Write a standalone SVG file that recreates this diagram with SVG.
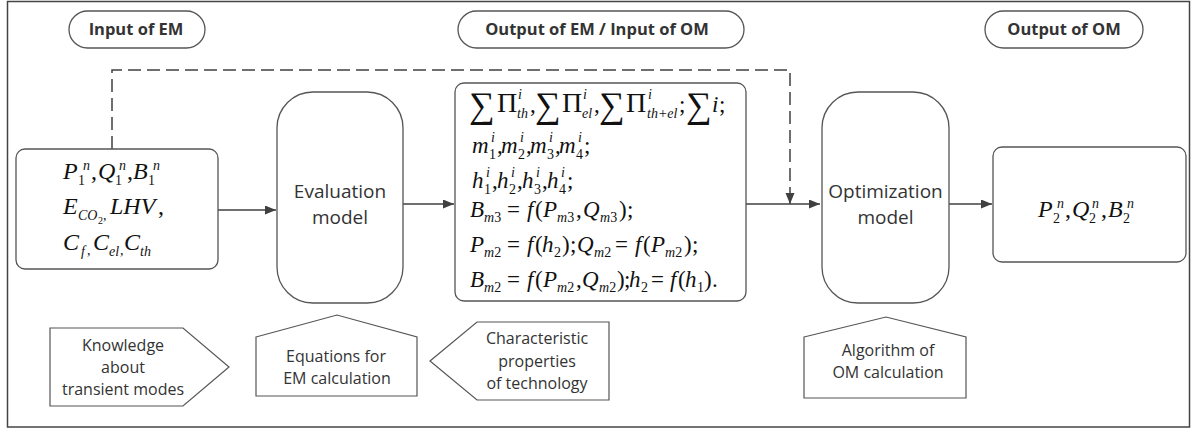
<svg xmlns="http://www.w3.org/2000/svg" width="1197" height="430" viewBox="0 0 1197 430">
<defs>
<style>
.frame{fill:none;stroke:#444;stroke-width:1.5}
.box{fill:#fff;stroke:#555;stroke-width:1.3}
.tag{fill:#fff;stroke:#555;stroke-width:1.2}
.hd{font-family:"Open Sans","Liberation Sans",sans-serif;font-weight:bold;font-size:16.5px;fill:#333;text-anchor:middle}
.lb{font-family:"Open Sans","Liberation Sans",sans-serif;font-size:19px;fill:#333;text-anchor:middle}
.sm{font-family:"Open Sans","Liberation Sans",sans-serif;font-size:16px;fill:#333;text-anchor:middle}
.m{font-family:"Liberation Serif","DejaVu Serif",serif;font-size:23px;fill:#111}
.m24{font-size:24px}
.i{font-style:italic}
.s{font-size:14px}
.xs{font-size:10px}
.big{font-size:36px}
.pi{font-size:28px}
.conn{fill:none;stroke:#404040;stroke-width:1.5}
.dash{stroke-dasharray:13 6}
</style>
<marker id="ah" markerUnits="userSpaceOnUse" markerWidth="12" markerHeight="10" refX="11" refY="4.5" orient="auto">
<path d="M0,0 L11,4.5 L0,9 z" fill="#404040"/>
</marker>
</defs>
<rect width="1197" height="430" fill="#fff"/>
<rect class="frame" x="7.5" y="1.5" width="1182" height="425.5"/>

<g id="hdr-input-em">
<rect class="box" x="69" y="11" width="136" height="37" rx="18.5"/>
<text class="hd" x="136" y="35">Input of EM</text>
</g>
<g id="hdr-output-em">
<rect class="box" x="458" y="11" width="286" height="37" rx="18.5"/>
<text class="hd" x="597" y="35">Output of EM / Input of OM</text>
</g>
<g id="hdr-output-om">
<rect class="box" x="985" y="11" width="158" height="37" rx="18.5"/>
<text class="hd" x="1064" y="35">Output of OM</text>
</g>

<g id="connectors">
<path class="conn" d="M218,210 H276" marker-end="url(#ah)"/>
<path class="conn" d="M403,204 H454" marker-end="url(#ah)"/>
<path class="conn" d="M746,204 H820" marker-end="url(#ah)"/>
<path class="conn" d="M949,204 H992" marker-end="url(#ah)"/>
<path class="conn dash" d="M112,149 V70 H790 V196"/>
<path class="conn" d="M790,196 V204" marker-end="url(#ah)"/>
</g>

<g id="input-box">
<rect class="box" x="16" y="149" width="202" height="120" rx="9"/>
<text class="m m24"><tspan class="i" x="63" y="179">P</tspan><tspan class="s" x="78" y="185">1</tspan><tspan class="s i" x="83" y="170">n</tspan><tspan x="91" y="179">,</tspan><tspan class="i" x="98" y="179">Q</tspan><tspan class="s" x="115" y="185">1</tspan><tspan class="s i" x="119" y="170">n</tspan><tspan x="127" y="179">,</tspan><tspan class="i" x="133" y="179">B</tspan><tspan class="s" x="148" y="185">1</tspan><tspan class="s i" x="153" y="170">n</tspan></text>
<text class="m m24"><tspan class="i" x="63" y="214">E</tspan><tspan class="s i" x="78" y="220">CO</tspan><tspan class="xs" x="98" y="224">2</tspan><tspan class="s" x="103" y="220">,</tspan><tspan class="i" x="110" y="214">LHV</tspan><tspan x="158" y="214">,</tspan></text>
<text class="m m24"><tspan class="i" x="63" y="250">C</tspan><tspan class="s i" x="81" y="256">f</tspan><tspan class="s" x="87" y="255">,</tspan><tspan class="i" x="93" y="250">C</tspan><tspan class="s i" x="109" y="256">el</tspan><tspan class="s" x="120" y="255">,</tspan><tspan class="i" x="124" y="250">C</tspan><tspan class="s i" x="140" y="256">th</tspan></text>
</g>

<g id="evaluation-model">
<rect class="box" x="277" y="92" width="126" height="211" rx="36"/>
<text class="lb" x="340" y="198">Evaluation</text>
<text class="lb" x="340" y="224">model</text>
</g>

<g id="em-output-box">
<rect class="box" x="455" y="83" width="291" height="218" rx="9"/>
<text class="m"><tspan class="big" x="469" y="117">∑</tspan><tspan class="pi" x="497" y="112">Π</tspan><tspan class="s i" x="518" y="99">i</tspan><tspan class="s i" x="517" y="118">th</tspan><tspan x="530" y="112">,</tspan><tspan class="big" x="535" y="117">∑</tspan><tspan class="pi" x="562" y="112">Π</tspan><tspan class="s i" x="583" y="99">i</tspan><tspan class="s i" x="582" y="118">el</tspan><tspan x="594" y="112">,</tspan><tspan class="big" x="599" y="117">∑</tspan><tspan class="pi" x="626" y="112">Π</tspan><tspan class="s i" x="648" y="99">i</tspan><tspan class="s i" x="647" y="118">th+el</tspan><tspan x="679" y="112">;</tspan><tspan class="big" x="686" y="117">∑</tspan><tspan class="i" x="712" y="112">i</tspan><tspan x="719" y="112">;</tspan></text>
<text class="m"><tspan class="i" x="472" y="153">m</tspan><tspan class="s" x="489" y="159">1</tspan><tspan class="s i" x="491" y="142">i</tspan><tspan x="497" y="153">,</tspan><tspan class="i" x="501" y="153">m</tspan><tspan class="s" x="518" y="159">2</tspan><tspan class="s i" x="520" y="142">i</tspan><tspan x="526" y="153">,</tspan><tspan class="i" x="530" y="153">m</tspan><tspan class="s" x="547" y="159">3</tspan><tspan class="s i" x="549" y="142">i</tspan><tspan x="555" y="153">,</tspan><tspan class="i" x="559" y="153">m</tspan><tspan class="s" x="576" y="159">4</tspan><tspan class="s i" x="578" y="142">i</tspan><tspan x="584" y="153">;</tspan></text>
<text class="m"><tspan class="i" x="472" y="188">h</tspan><tspan class="s" x="484" y="194">1</tspan><tspan class="s i" x="486" y="177">i</tspan><tspan x="492" y="188">,</tspan><tspan class="i" x="497" y="188">h</tspan><tspan class="s" x="509" y="194">2</tspan><tspan class="s i" x="511" y="177">i</tspan><tspan x="517" y="188">,</tspan><tspan class="i" x="522" y="188">h</tspan><tspan class="s" x="534" y="194">3</tspan><tspan class="s i" x="536" y="177">i</tspan><tspan x="542" y="188">,</tspan><tspan class="i" x="547" y="188">h</tspan><tspan class="s" x="559" y="194">4</tspan><tspan class="s i" x="561" y="177">i</tspan><tspan x="567" y="188">;</tspan></text>
<text class="m"><tspan class="i" x="470" y="217">B</tspan><tspan class="s i" x="484" y="222">m</tspan><tspan class="s">3</tspan><tspan x="507" y="217">=</tspan><tspan class="i" x="527" y="217">f</tspan><tspan x="535" y="217">(</tspan><tspan class="i" x="543" y="217">P</tspan><tspan class="s i" x="557" y="222">m</tspan><tspan class="s">3</tspan><tspan x="576" y="217">,</tspan><tspan class="i" x="583" y="217">Q</tspan><tspan class="s i" x="600" y="222">m</tspan><tspan class="s">3</tspan><tspan x="619" y="217">)</tspan><tspan x="627" y="217">;</tspan></text>
<text class="m"><tspan class="i" x="470" y="252">P</tspan><tspan class="s i" x="484" y="257">m</tspan><tspan class="s">2</tspan><tspan x="507" y="252">=</tspan><tspan class="i" x="527" y="252">f</tspan><tspan x="535" y="252">(</tspan><tspan class="i" x="542" y="252">h</tspan><tspan class="s" x="554" y="257">2</tspan><tspan x="562" y="252">)</tspan><tspan x="570" y="252">;</tspan><tspan class="i" x="577" y="252">Q</tspan><tspan class="s i" x="594" y="257">m</tspan><tspan class="s">2</tspan><tspan x="615" y="252">=</tspan><tspan class="i" x="635" y="252">f</tspan><tspan x="643" y="252">(</tspan><tspan class="i" x="651" y="252">P</tspan><tspan class="s i" x="665" y="257">m</tspan><tspan class="s">2</tspan><tspan x="684" y="252">)</tspan><tspan x="692" y="252">;</tspan></text>
<text class="m"><tspan class="i" x="470" y="287">B</tspan><tspan class="s i" x="484" y="292">m</tspan><tspan class="s">2</tspan><tspan x="507" y="287">=</tspan><tspan class="i" x="527" y="287">f</tspan><tspan x="535" y="287">(</tspan><tspan class="i" x="543" y="287">P</tspan><tspan class="s i" x="557" y="292">m</tspan><tspan class="s">2</tspan><tspan x="576" y="287">,</tspan><tspan class="i" x="582" y="287">Q</tspan><tspan class="s i" x="599" y="292">m</tspan><tspan class="s">2</tspan><tspan x="617" y="287">)</tspan><tspan x="624" y="287">;</tspan><tspan class="i" x="629" y="287">h</tspan><tspan class="s" x="641" y="292">2</tspan><tspan x="651" y="287">=</tspan><tspan class="i" x="670" y="287">f</tspan><tspan x="678" y="287">(</tspan><tspan class="i" x="685" y="287">h</tspan><tspan class="s" x="697" y="292">1</tspan><tspan x="704" y="287">)</tspan><tspan x="712" y="287">.</tspan></text>
</g>

<g id="optimization-model">
<rect class="box" x="822" y="92" width="127" height="211" rx="36"/>
<text class="lb" x="885.5" y="198">Optimization</text>
<text class="lb" x="885.5" y="224">model</text>
</g>

<g id="om-output-box">
<rect class="box" x="993" y="147" width="193" height="115" rx="9"/>
<text class="m m24"><tspan class="i" x="1038" y="217">P</tspan><tspan class="s" x="1053" y="223">2</tspan><tspan class="s i" x="1057" y="208">n</tspan><tspan x="1065" y="217">,</tspan><tspan class="i" x="1072" y="217">Q</tspan><tspan class="s" x="1089" y="223">2</tspan><tspan class="s i" x="1092" y="208">n</tspan><tspan x="1101" y="217">,</tspan><tspan class="i" x="1108" y="217">B</tspan><tspan class="s" x="1123" y="223">2</tspan><tspan class="s i" x="1127" y="208">n</tspan></text>
</g>

<g id="tag-knowledge">
<polygon class="tag" points="50,328 183,328 229,367 183,406 50,406"/>
<text class="sm" x="123" y="351">Knowledge</text>
<text class="sm" x="123" y="373">about</text>
<text class="sm" x="123" y="395">transient modes</text>
</g>
<g id="tag-equations">
<polygon class="tag" points="256,337 337,315 417,337 417,396 256,396"/>
<text class="sm" x="336" y="362">Equations for</text>
<text class="sm" x="337" y="384">EM  calculation</text>
</g>
<g id="tag-characteristic">
<polygon class="tag" points="430,361 477,322 609,322 609,400 477,400"/>
<text class="sm" x="537" y="344">Characteristic</text>
<text class="sm" x="537" y="367">properties</text>
<text class="sm" x="537" y="389">of technology</text>
</g>
<g id="tag-algorithm">
<polygon class="tag" points="804,337 886,317 966,337 966,398 804,398"/>
<text class="sm" x="888" y="356">Algorithm of</text>
<text class="sm" x="888" y="378">OM calculation</text>
</g>
</svg>
